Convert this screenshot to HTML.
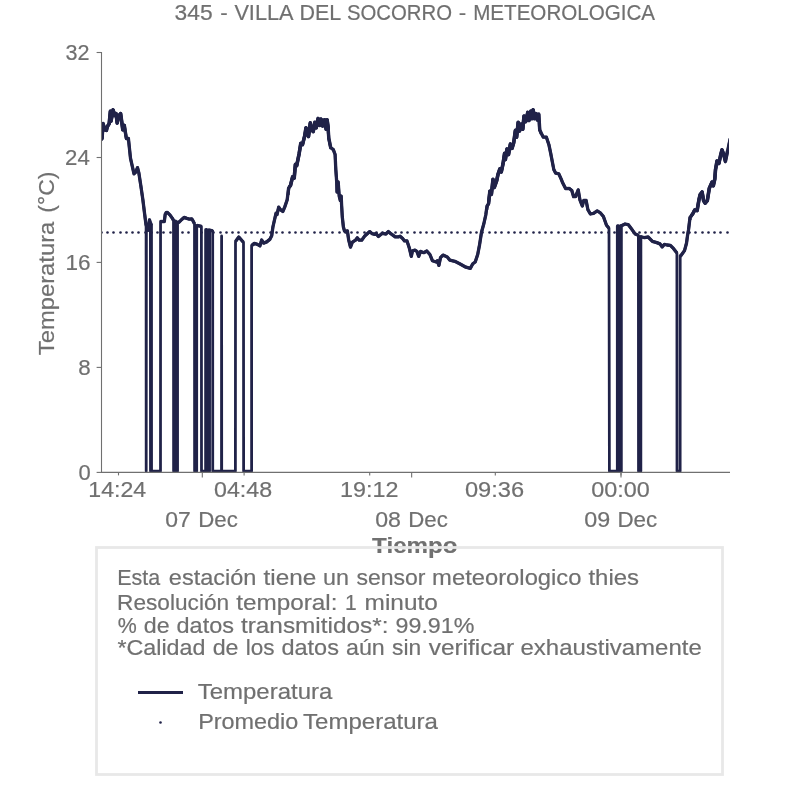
<!DOCTYPE html>
<html lang="es">
<head>
<meta charset="utf-8">
<title>345 - VILLA DEL SOCORRO - METEOROLOGICA</title>
<style>
html,body{margin:0;padding:0;background:#ffffff;}
body{width:806px;height:806px;overflow:hidden;font-family:"Liberation Sans",sans-serif;}
svg{display:block;will-change:transform;}
svg text{font-family:"Liberation Sans",sans-serif;font-size:22.1px;fill:#707070;stroke:#707070;stroke-width:0.2px;white-space:pre;}
</style>
</head>
<body>
<svg width="806" height="806" viewBox="0 0 806 806">
<rect x="0" y="0" width="806" height="806" fill="#ffffff"/>
<defs><clipPath id="ax"><rect x="101.5" y="52.5" width="627.5" height="419.9"/></clipPath>
<clipPath id="noisy"><rect x="101.5" y="100" width="25" height="45"/><rect x="288" y="110" width="42" height="85"/><rect x="487" y="100" width="53" height="110"/><rect x="690" y="130" width="36" height="90"/></clipPath></defs>

<!-- title -->
<text y="20.3" font-size="22.4"><tspan x="174.63" textLength="38.11" lengthAdjust="spacingAndGlyphs">345</tspan> <tspan x="220.22" textLength="7.46" lengthAdjust="spacingAndGlyphs">-</tspan> <tspan x="234.38" textLength="58.01" lengthAdjust="spacingAndGlyphs">VILLA</tspan> <tspan x="299.45" textLength="41.0" lengthAdjust="spacingAndGlyphs">DEL</tspan> <tspan x="346.91" textLength="105.05" lengthAdjust="spacingAndGlyphs">SOCORRO</tspan> <tspan x="458.78" textLength="7.46" lengthAdjust="spacingAndGlyphs">-</tspan> <tspan x="473.22" textLength="181.77" lengthAdjust="spacingAndGlyphs">METEOROLOGICA</tspan></text>
<!-- data: temperatura + promedio -->
<g clip-path="url(#ax)"><path d="M101.00,139.50 L102.00,138.50 L103.00,123.60 L104.80,129.80 L106.40,130.40 L107.30,126.70 L109.20,123.60 L110.40,111.20 L111.00,121.10 L113.10,109.90 L114.70,115.50 L116.00,113.60 L117.20,123.00 L118.50,116.10 L120.60,113.60 L122.80,129.80 L124.30,125.40 L126.50,138.50 L128.40,138.50 L130.50,158.30 L134.00,173.80 L135.80,172.00 L137.50,167.60 L138.90,173.20 L140.80,185.60 L142.90,200.00 L144.50,213.00 L146.10,225.50 L146.20,471.20 L146.40,225.50 L147.20,228.80 L148.30,230.20 L148.70,227.00 L149.50,219.90 L150.40,223.00 L150.50,471.20 L150.60,223.00 L151.50,225.50 L151.55,471.20 L160.50,471.20 L160.55,221.50 L164.30,221.60 L165.20,214.40 L166.20,212.60 L167.30,212.30 L169.90,214.90 L172.40,218.40 L173.50,220.30 L173.60,471.20 L174.90,471.20 L174.90,221.00 L176.20,221.50 L176.25,471.20 L177.55,471.20 L177.55,222.20 L178.90,222.30 L181.80,219.40 L184.10,217.40 L186.80,218.40 L189.30,219.10 L191.80,218.90 L193.30,221.40 L194.50,223.80 L194.60,471.20 L196.70,471.20 L196.75,225.30 L199.00,225.80 L201.40,226.40 L201.50,471.20 L205.60,471.20 L205.60,229.70 L206.90,229.70 L207.00,471.20 L208.40,471.20 L208.40,229.90 L209.50,230.10 L209.55,471.20 L209.60,230.20 L212.70,230.80 L212.75,471.20 L221.50,471.20 L221.60,236.00 L221.70,471.20 L235.40,471.20 L235.50,241.50 L238.80,237.00 L243.50,242.30 L243.60,471.20 L251.60,471.20 L251.60,245.60 L254.30,243.40 L257.40,244.40 L259.90,245.90 L261.70,240.00 L263.60,243.10 L266.70,241.90 L269.80,239.40 L271.70,235.70 L272.90,227.00 L276.00,213.30 L277.00,214.60 L278.70,207.10 L280.40,209.60 L282.80,211.50 L284.70,207.10 L287.20,199.70 L288.60,188.00 L290.50,185.50 L292.60,176.90 L294.20,178.10 L295.40,164.40 L296.70,165.70 L299.20,153.30 L300.80,143.40 L302.50,144.60 L304.70,135.90 L306.00,127.80 L307.20,133.40 L308.50,136.50 L310.30,122.90 L311.60,129.70 L313.20,131.60 L314.90,122.30 L316.20,127.80 L318.10,118.50 L319.60,125.40 L321.10,119.20 L322.70,126.00 L324.60,119.80 L326.10,129.10 L327.10,119.80 L328.10,127.20 L328.90,138.40 L330.80,147.70 L333.30,149.60 L335.10,154.50 L335.80,169.40 L336.70,181.80 L337.00,192.00 L338.20,182.00 L339.20,196.00 L340.30,200.50 L341.20,196.00 L341.60,205.00 L342.30,217.00 L343.40,227.00 L344.50,231.00 L345.50,231.60 L347.40,230.90 L348.60,239.60 L350.50,247.10 L352.40,242.10 L355.50,240.20 L357.30,237.80 L359.20,240.20 L361.70,240.20 L364.80,235.90 L369.70,231.60 L372.20,233.70 L374.70,234.40 L375.90,233.40 L378.40,236.50 L382.10,233.40 L385.90,234.00 L388.30,231.60 L390.80,233.70 L395.20,236.90 L398.30,236.90 L400.10,236.20 L402.60,238.40 L404.50,240.90 L407.00,240.90 L409.40,248.30 L411.30,256.40 L412.50,250.80 L415.00,250.20 L416.90,251.40 L418.70,256.40 L420.60,251.40 L423.70,252.70 L426.80,251.00 L429.90,254.50 L432.40,260.70 L436.20,262.00 L437.40,260.70 L438.90,265.40 L440.50,257.60 L443.00,255.10 L447.30,257.00 L449.80,260.10 L454.80,261.30 L459.70,263.80 L465.90,267.20 L470.30,268.40 L472.80,263.80 L475.20,262.00 L477.70,254.50 L479.60,244.60 L481.50,232.20 L483.90,223.50 L485.80,214.80 L487.00,206.10 L488.50,203.60 L489.90,191.20 L491.40,194.30 L493.00,179.40 L494.30,187.50 L496.70,180.60 L498.00,174.40 L499.90,168.90 L501.30,172.00 L503.00,163.90 L504.60,153.30 L505.40,159.60 L507.00,149.00 L508.50,154.60 L510.40,144.00 L512.00,148.40 L513.70,142.80 L515.40,130.40 L516.60,137.20 L518.20,122.30 L519.50,131.00 L521.20,124.20 L522.80,129.20 L524.00,116.10 L525.70,121.70 L527.80,112.40 L529.00,120.50 L530.90,111.20 L532.10,118.60 L533.10,109.90 L534.60,118.60 L536.10,113.60 L537.30,119.90 L538.90,114.30 L539.80,129.80 L541.40,133.50 L543.30,137.20 L546.40,137.20 L548.90,144.70 L550.70,153.30 L552.60,163.30 L553.80,169.50 L555.70,173.20 L558.80,173.80 L561.30,179.40 L562.50,182.40 L565.60,188.60 L569.30,188.40 L571.80,190.50 L573.60,196.70 L575.50,196.70 L578.20,189.90 L579.90,199.80 L582.30,206.00 L583.80,200.40 L586.10,200.40 L587.90,209.70 L590.40,214.00 L593.50,213.40 L597.20,210.90 L600.30,212.80 L603.40,216.50 L606.50,225.20 L609.00,228.30 L609.40,471.20 L617.30,471.20 L617.30,226.00 L618.60,226.00 L618.70,471.20 L620.00,471.20 L620.00,225.80 L621.30,225.80 L621.35,471.20 L621.40,225.80 L625.10,224.00 L628.20,224.60 L632.00,229.60 L635.10,233.90 L638.40,235.30 L638.50,471.20 L640.85,471.20 L640.90,236.50 L641.90,237.00 L644.40,237.60 L648.10,237.00 L652.40,241.30 L656.80,242.60 L660.00,243.90 L662.20,246.90 L664.40,244.40 L667.00,245.00 L670.40,245.40 L673.40,248.40 L676.90,252.90 L677.00,471.20 L680.15,471.20 L680.20,255.60 L680.80,255.80 L684.50,250.60 L686.50,243.20 L687.50,235.70 L688.50,230.00 L690.00,217.50 L692.80,213.70 L694.70,210.00 L697.10,210.60 L699.00,199.50 L700.20,194.50 L702.10,192.00 L703.60,200.70 L705.20,203.20 L707.30,200.70 L709.30,188.30 L712.00,182.10 L713.30,185.80 L714.80,179.00 L715.50,169.70 L717.00,161.00 L718.90,163.50 L720.70,154.80 L722.00,149.90 L723.80,154.80 L725.50,161.50 L729.00,144.40 L730.20,138.60" fill="none" stroke="#202248" stroke-width="2.78" stroke-linejoin="round" stroke-linecap="butt"/>
<path d="M101.00,139.50 L102.00,138.50 L103.00,123.60 L104.80,129.80 L106.40,130.40 L107.30,126.70 L109.20,123.60 L110.40,111.20 L111.00,121.10 L113.10,109.90 L114.70,115.50 L116.00,113.60 L117.20,123.00 L118.50,116.10 L120.60,113.60 L122.80,129.80 L124.30,125.40 L126.50,138.50 L128.40,138.50 L130.50,158.30 L134.00,173.80 L135.80,172.00 L137.50,167.60 L138.90,173.20 L140.80,185.60 L142.90,200.00 L144.50,213.00 L146.10,225.50 M146.40,225.50 L147.20,228.80 L148.30,230.20 L148.70,227.00 L149.50,219.90 L150.40,223.00 M150.60,223.00 L151.50,225.50 M160.55,221.50 L164.30,221.60 L165.20,214.40 L166.20,212.60 L167.30,212.30 L169.90,214.90 L172.40,218.40 L173.50,220.30 M174.90,221.00 L176.20,221.50 M177.55,222.20 L178.90,222.30 L181.80,219.40 L184.10,217.40 L186.80,218.40 L189.30,219.10 L191.80,218.90 L193.30,221.40 L194.50,223.80 M196.75,225.30 L199.00,225.80 L201.40,226.40 M205.60,229.70 L206.90,229.70 M208.40,229.90 L209.50,230.10 M209.60,230.20 L212.70,230.80 M235.50,241.50 L238.80,237.00 L243.50,242.30 M251.60,245.60 L254.30,243.40 L257.40,244.40 L259.90,245.90 L261.70,240.00 L263.60,243.10 L266.70,241.90 L269.80,239.40 L271.70,235.70 L272.90,227.00 L276.00,213.30 L277.00,214.60 L278.70,207.10 L280.40,209.60 L282.80,211.50 L284.70,207.10 L287.20,199.70 L288.60,188.00 L290.50,185.50 L292.60,176.90 L294.20,178.10 L295.40,164.40 L296.70,165.70 L299.20,153.30 L300.80,143.40 L302.50,144.60 L304.70,135.90 L306.00,127.80 L307.20,133.40 L308.50,136.50 L310.30,122.90 L311.60,129.70 L313.20,131.60 L314.90,122.30 L316.20,127.80 L318.10,118.50 L319.60,125.40 L321.10,119.20 L322.70,126.00 L324.60,119.80 L326.10,129.10 L327.10,119.80 L328.10,127.20 L328.90,138.40 L330.80,147.70 L333.30,149.60 L335.10,154.50 L335.80,169.40 L336.70,181.80 L337.00,192.00 L338.20,182.00 L339.20,196.00 L340.30,200.50 L341.20,196.00 L341.60,205.00 L342.30,217.00 L343.40,227.00 L344.50,231.00 L345.50,231.60 L347.40,230.90 L348.60,239.60 L350.50,247.10 L352.40,242.10 L355.50,240.20 L357.30,237.80 L359.20,240.20 L361.70,240.20 L364.80,235.90 L369.70,231.60 L372.20,233.70 L374.70,234.40 L375.90,233.40 L378.40,236.50 L382.10,233.40 L385.90,234.00 L388.30,231.60 L390.80,233.70 L395.20,236.90 L398.30,236.90 L400.10,236.20 L402.60,238.40 L404.50,240.90 L407.00,240.90 L409.40,248.30 L411.30,256.40 L412.50,250.80 L415.00,250.20 L416.90,251.40 L418.70,256.40 L420.60,251.40 L423.70,252.70 L426.80,251.00 L429.90,254.50 L432.40,260.70 L436.20,262.00 L437.40,260.70 L438.90,265.40 L440.50,257.60 L443.00,255.10 L447.30,257.00 L449.80,260.10 L454.80,261.30 L459.70,263.80 L465.90,267.20 L470.30,268.40 L472.80,263.80 L475.20,262.00 L477.70,254.50 L479.60,244.60 L481.50,232.20 L483.90,223.50 L485.80,214.80 L487.00,206.10 L488.50,203.60 L489.90,191.20 L491.40,194.30 L493.00,179.40 L494.30,187.50 L496.70,180.60 L498.00,174.40 L499.90,168.90 L501.30,172.00 L503.00,163.90 L504.60,153.30 L505.40,159.60 L507.00,149.00 L508.50,154.60 L510.40,144.00 L512.00,148.40 L513.70,142.80 L515.40,130.40 L516.60,137.20 L518.20,122.30 L519.50,131.00 L521.20,124.20 L522.80,129.20 L524.00,116.10 L525.70,121.70 L527.80,112.40 L529.00,120.50 L530.90,111.20 L532.10,118.60 L533.10,109.90 L534.60,118.60 L536.10,113.60 L537.30,119.90 L538.90,114.30 L539.80,129.80 L541.40,133.50 L543.30,137.20 L546.40,137.20 L548.90,144.70 L550.70,153.30 L552.60,163.30 L553.80,169.50 L555.70,173.20 L558.80,173.80 L561.30,179.40 L562.50,182.40 L565.60,188.60 L569.30,188.40 L571.80,190.50 L573.60,196.70 L575.50,196.70 L578.20,189.90 L579.90,199.80 L582.30,206.00 L583.80,200.40 L586.10,200.40 L587.90,209.70 L590.40,214.00 L593.50,213.40 L597.20,210.90 L600.30,212.80 L603.40,216.50 L606.50,225.20 L609.00,228.30 M617.30,226.00 L618.60,226.00 M620.00,225.80 L621.30,225.80 M621.40,225.80 L625.10,224.00 L628.20,224.60 L632.00,229.60 L635.10,233.90 L638.40,235.30 M640.90,236.50 L641.90,237.00 L644.40,237.60 L648.10,237.00 L652.40,241.30 L656.80,242.60 L660.00,243.90 L662.20,246.90 L664.40,244.40 L667.00,245.00 L670.40,245.40 L673.40,248.40 L676.90,252.90 M680.20,255.60 L680.80,255.80 L684.50,250.60 L686.50,243.20 L687.50,235.70 L688.50,230.00 L690.00,217.50 L692.80,213.70 L694.70,210.00 L697.10,210.60 L699.00,199.50 L700.20,194.50 L702.10,192.00 L703.60,200.70 L705.20,203.20 L707.30,200.70 L709.30,188.30 L712.00,182.10 L713.30,185.80 L714.80,179.00 L715.50,169.70 L717.00,161.00 L718.90,163.50 L720.70,154.80 L722.00,149.90 L723.80,154.80 L725.50,161.50 L729.00,144.40 L730.20,138.60" fill="none" stroke="#202248" stroke-width="3.3" stroke-linejoin="round" stroke-linecap="butt"/>
<g clip-path="url(#noisy)"><path d="M101.00,139.50 L102.00,138.50 L103.00,123.60 L104.80,129.80 L106.40,130.40 L107.30,126.70 L109.20,123.60 L110.40,111.20 L111.00,121.10 L113.10,109.90 L114.70,115.50 L116.00,113.60 L117.20,123.00 L118.50,116.10 L120.60,113.60 L122.80,129.80 L124.30,125.40 L126.50,138.50 L128.40,138.50 L130.50,158.30 L134.00,173.80 L135.80,172.00 L137.50,167.60 L138.90,173.20 L140.80,185.60 L142.90,200.00 L144.50,213.00 L146.10,225.50 M146.40,225.50 L147.20,228.80 L148.30,230.20 L148.70,227.00 L149.50,219.90 L150.40,223.00 M150.60,223.00 L151.50,225.50 M160.55,221.50 L164.30,221.60 L165.20,214.40 L166.20,212.60 L167.30,212.30 L169.90,214.90 L172.40,218.40 L173.50,220.30 M174.90,221.00 L176.20,221.50 M177.55,222.20 L178.90,222.30 L181.80,219.40 L184.10,217.40 L186.80,218.40 L189.30,219.10 L191.80,218.90 L193.30,221.40 L194.50,223.80 M196.75,225.30 L199.00,225.80 L201.40,226.40 M205.60,229.70 L206.90,229.70 M208.40,229.90 L209.50,230.10 M209.60,230.20 L212.70,230.80 M235.50,241.50 L238.80,237.00 L243.50,242.30 M251.60,245.60 L254.30,243.40 L257.40,244.40 L259.90,245.90 L261.70,240.00 L263.60,243.10 L266.70,241.90 L269.80,239.40 L271.70,235.70 L272.90,227.00 L276.00,213.30 L277.00,214.60 L278.70,207.10 L280.40,209.60 L282.80,211.50 L284.70,207.10 L287.20,199.70 L288.60,188.00 L290.50,185.50 L292.60,176.90 L294.20,178.10 L295.40,164.40 L296.70,165.70 L299.20,153.30 L300.80,143.40 L302.50,144.60 L304.70,135.90 L306.00,127.80 L307.20,133.40 L308.50,136.50 L310.30,122.90 L311.60,129.70 L313.20,131.60 L314.90,122.30 L316.20,127.80 L318.10,118.50 L319.60,125.40 L321.10,119.20 L322.70,126.00 L324.60,119.80 L326.10,129.10 L327.10,119.80 L328.10,127.20 L328.90,138.40 L330.80,147.70 L333.30,149.60 L335.10,154.50 L335.80,169.40 L336.70,181.80 L337.00,192.00 L338.20,182.00 L339.20,196.00 L340.30,200.50 L341.20,196.00 L341.60,205.00 L342.30,217.00 L343.40,227.00 L344.50,231.00 L345.50,231.60 L347.40,230.90 L348.60,239.60 L350.50,247.10 L352.40,242.10 L355.50,240.20 L357.30,237.80 L359.20,240.20 L361.70,240.20 L364.80,235.90 L369.70,231.60 L372.20,233.70 L374.70,234.40 L375.90,233.40 L378.40,236.50 L382.10,233.40 L385.90,234.00 L388.30,231.60 L390.80,233.70 L395.20,236.90 L398.30,236.90 L400.10,236.20 L402.60,238.40 L404.50,240.90 L407.00,240.90 L409.40,248.30 L411.30,256.40 L412.50,250.80 L415.00,250.20 L416.90,251.40 L418.70,256.40 L420.60,251.40 L423.70,252.70 L426.80,251.00 L429.90,254.50 L432.40,260.70 L436.20,262.00 L437.40,260.70 L438.90,265.40 L440.50,257.60 L443.00,255.10 L447.30,257.00 L449.80,260.10 L454.80,261.30 L459.70,263.80 L465.90,267.20 L470.30,268.40 L472.80,263.80 L475.20,262.00 L477.70,254.50 L479.60,244.60 L481.50,232.20 L483.90,223.50 L485.80,214.80 L487.00,206.10 L488.50,203.60 L489.90,191.20 L491.40,194.30 L493.00,179.40 L494.30,187.50 L496.70,180.60 L498.00,174.40 L499.90,168.90 L501.30,172.00 L503.00,163.90 L504.60,153.30 L505.40,159.60 L507.00,149.00 L508.50,154.60 L510.40,144.00 L512.00,148.40 L513.70,142.80 L515.40,130.40 L516.60,137.20 L518.20,122.30 L519.50,131.00 L521.20,124.20 L522.80,129.20 L524.00,116.10 L525.70,121.70 L527.80,112.40 L529.00,120.50 L530.90,111.20 L532.10,118.60 L533.10,109.90 L534.60,118.60 L536.10,113.60 L537.30,119.90 L538.90,114.30 L539.80,129.80 L541.40,133.50 L543.30,137.20 L546.40,137.20 L548.90,144.70 L550.70,153.30 L552.60,163.30 L553.80,169.50 L555.70,173.20 L558.80,173.80 L561.30,179.40 L562.50,182.40 L565.60,188.60 L569.30,188.40 L571.80,190.50 L573.60,196.70 L575.50,196.70 L578.20,189.90 L579.90,199.80 L582.30,206.00 L583.80,200.40 L586.10,200.40 L587.90,209.70 L590.40,214.00 L593.50,213.40 L597.20,210.90 L600.30,212.80 L603.40,216.50 L606.50,225.20 L609.00,228.30 M617.30,226.00 L618.60,226.00 M620.00,225.80 L621.30,225.80 M621.40,225.80 L625.10,224.00 L628.20,224.60 L632.00,229.60 L635.10,233.90 L638.40,235.30 M640.90,236.50 L641.90,237.00 L644.40,237.60 L648.10,237.00 L652.40,241.30 L656.80,242.60 L660.00,243.90 L662.20,246.90 L664.40,244.40 L667.00,245.00 L670.40,245.40 L673.40,248.40 L676.90,252.90 M680.20,255.60 L680.80,255.80 L684.50,250.60 L686.50,243.20 L687.50,235.70 L688.50,230.00 L690.00,217.50 L692.80,213.70 L694.70,210.00 L697.10,210.60 L699.00,199.50 L700.20,194.50 L702.10,192.00 L703.60,200.70 L705.20,203.20 L707.30,200.70 L709.30,188.30 L712.00,182.10 L713.30,185.80 L714.80,179.00 L715.50,169.70 L717.00,161.00 L718.90,163.50 L720.70,154.80 L722.00,149.90 L723.80,154.80 L725.50,161.50 L729.00,144.40 L730.20,138.60" fill="none" stroke="#202248" stroke-width="3.6" stroke-linejoin="round"/></g>
<g fill="#202248"><circle cx="101.5" cy="232.5" r="1.3"/><circle cx="107.5" cy="232.5" r="1.3"/><circle cx="113.5" cy="232.5" r="1.3"/><circle cx="120.5" cy="232.5" r="1.3"/><circle cx="126.5" cy="232.5" r="1.3"/><circle cx="132.5" cy="232.5" r="1.3"/><circle cx="138.5" cy="232.5" r="1.3"/><circle cx="145.5" cy="232.5" r="1.3"/><circle cx="151.5" cy="232.5" r="1.3"/><circle cx="157.5" cy="232.5" r="1.3"/><circle cx="163.5" cy="232.5" r="1.3"/><circle cx="170.5" cy="232.5" r="1.3"/><circle cx="176.5" cy="232.5" r="1.3"/><circle cx="182.5" cy="232.5" r="1.3"/><circle cx="188.5" cy="232.5" r="1.3"/><circle cx="195.5" cy="232.5" r="1.3"/><circle cx="201.5" cy="232.5" r="1.3"/><circle cx="207.5" cy="232.5" r="1.3"/><circle cx="213.5" cy="232.5" r="1.3"/><circle cx="220.5" cy="232.5" r="1.3"/><circle cx="226.5" cy="232.5" r="1.3"/><circle cx="232.5" cy="232.5" r="1.3"/><circle cx="238.5" cy="232.5" r="1.3"/><circle cx="245.5" cy="232.5" r="1.3"/><circle cx="251.5" cy="232.5" r="1.3"/><circle cx="257.5" cy="232.5" r="1.3"/><circle cx="263.5" cy="232.5" r="1.3"/><circle cx="270.5" cy="232.5" r="1.3"/><circle cx="276.5" cy="232.5" r="1.3"/><circle cx="282.5" cy="232.5" r="1.3"/><circle cx="289.5" cy="232.5" r="1.3"/><circle cx="295.5" cy="232.5" r="1.3"/><circle cx="301.5" cy="232.5" r="1.3"/><circle cx="307.5" cy="232.5" r="1.3"/><circle cx="314.5" cy="232.5" r="1.3"/><circle cx="320.5" cy="232.5" r="1.3"/><circle cx="326.5" cy="232.5" r="1.3"/><circle cx="332.5" cy="232.5" r="1.3"/><circle cx="339.5" cy="232.5" r="1.3"/><circle cx="345.5" cy="232.5" r="1.3"/><circle cx="351.5" cy="232.5" r="1.3"/><circle cx="357.5" cy="232.5" r="1.3"/><circle cx="364.5" cy="232.5" r="1.3"/><circle cx="370.5" cy="232.5" r="1.3"/><circle cx="376.5" cy="232.5" r="1.3"/><circle cx="382.5" cy="232.5" r="1.3"/><circle cx="389.5" cy="232.5" r="1.3"/><circle cx="395.5" cy="232.5" r="1.3"/><circle cx="401.5" cy="232.5" r="1.3"/><circle cx="407.5" cy="232.5" r="1.3"/><circle cx="414.5" cy="232.5" r="1.3"/><circle cx="420.5" cy="232.5" r="1.3"/><circle cx="426.5" cy="232.5" r="1.3"/><circle cx="432.5" cy="232.5" r="1.3"/><circle cx="439.5" cy="232.5" r="1.3"/><circle cx="445.5" cy="232.5" r="1.3"/><circle cx="451.5" cy="232.5" r="1.3"/><circle cx="457.5" cy="232.5" r="1.3"/><circle cx="464.5" cy="232.5" r="1.3"/><circle cx="470.5" cy="232.5" r="1.3"/><circle cx="476.5" cy="232.5" r="1.3"/><circle cx="482.5" cy="232.5" r="1.3"/><circle cx="489.5" cy="232.5" r="1.3"/><circle cx="495.5" cy="232.5" r="1.3"/><circle cx="501.5" cy="232.5" r="1.3"/><circle cx="508.5" cy="232.5" r="1.3"/><circle cx="514.5" cy="232.5" r="1.3"/><circle cx="520.5" cy="232.5" r="1.3"/><circle cx="526.5" cy="232.5" r="1.3"/><circle cx="533.5" cy="232.5" r="1.3"/><circle cx="539.5" cy="232.5" r="1.3"/><circle cx="545.5" cy="232.5" r="1.3"/><circle cx="551.5" cy="232.5" r="1.3"/><circle cx="558.5" cy="232.5" r="1.3"/><circle cx="564.5" cy="232.5" r="1.3"/><circle cx="570.5" cy="232.5" r="1.3"/><circle cx="576.5" cy="232.5" r="1.3"/><circle cx="583.5" cy="232.5" r="1.3"/><circle cx="589.5" cy="232.5" r="1.3"/><circle cx="595.5" cy="232.5" r="1.3"/><circle cx="601.5" cy="232.5" r="1.3"/><circle cx="608.5" cy="232.5" r="1.3"/><circle cx="614.5" cy="232.5" r="1.3"/><circle cx="620.5" cy="232.5" r="1.3"/><circle cx="626.5" cy="232.5" r="1.3"/><circle cx="633.5" cy="232.5" r="1.3"/><circle cx="639.5" cy="232.5" r="1.3"/><circle cx="645.5" cy="232.5" r="1.3"/><circle cx="651.5" cy="232.5" r="1.3"/><circle cx="658.5" cy="232.5" r="1.3"/><circle cx="664.5" cy="232.5" r="1.3"/><circle cx="670.5" cy="232.5" r="1.3"/><circle cx="676.5" cy="232.5" r="1.3"/><circle cx="683.5" cy="232.5" r="1.3"/><circle cx="689.5" cy="232.5" r="1.3"/><circle cx="695.5" cy="232.5" r="1.3"/><circle cx="702.5" cy="232.5" r="1.3"/><circle cx="708.5" cy="232.5" r="1.3"/><circle cx="714.5" cy="232.5" r="1.3"/><circle cx="720.5" cy="232.5" r="1.3"/><circle cx="727.5" cy="232.5" r="1.3"/></g></g>
<!-- axes -->
<g stroke="#707070" stroke-width="1.1" fill="none">
<path d="M101.5,52 V472.95"/><path d="M100.95,472.4 H730"/>
<path d="M96.6,52.5 H101.5"/>
<path d="M96.6,157.5 H101.5"/>
<path d="M96.6,262.4 H101.5"/>
<path d="M96.6,367.4 H101.5"/>
<path d="M96.6,472.4 H101.5"/>
<path d="M118.5,472.4 V475.4"/>
<path d="M244.1,472.4 V475.4"/>
<path d="M369.7,472.4 V475.4"/>
<path d="M495.3,472.4 V475.4"/>
<path d="M621.0,472.4 V475.4"/>
<path d="M202.3,472.4 V477.4"/>
<path d="M411.65,472.4 V477.4"/>
<path d="M621.0,472.4 V477.4"/>
</g>
<text y="59.7" font-size="22.9"><tspan x="65.58" textLength="24.01" lengthAdjust="spacingAndGlyphs">32</tspan></text>
<text y="164.65" font-size="22.9"><tspan x="65.13" textLength="24.72" lengthAdjust="spacingAndGlyphs">24</tspan></text>
<text y="269.6" font-size="22.9"><tspan x="65.43" textLength="25.06" lengthAdjust="spacingAndGlyphs">16</tspan></text>
<text y="374.6" font-size="22.9"><tspan x="78.33" textLength="12.44" lengthAdjust="spacingAndGlyphs">8</tspan></text>
<text y="479.6" font-size="22.9"><tspan x="78.44" textLength="12.22" lengthAdjust="spacingAndGlyphs">0</tspan></text>
<text y="496.65" font-size="22.9"><tspan x="88.34" textLength="57.84" lengthAdjust="spacingAndGlyphs">14:24</tspan></text>
<text y="496.65" font-size="22.9"><tspan x="213.99" textLength="58.12" lengthAdjust="spacingAndGlyphs">04:48</tspan></text>
<text y="496.65" font-size="22.9"><tspan x="340.12" textLength="58.35" lengthAdjust="spacingAndGlyphs">19:12</tspan></text>
<text y="496.65" font-size="22.9"><tspan x="464.98" textLength="59.16" lengthAdjust="spacingAndGlyphs">09:36</tspan></text>
<text y="496.65" font-size="22.9"><tspan x="591.19" textLength="58.53" lengthAdjust="spacingAndGlyphs">00:00</tspan></text>
<text y="526.65"><tspan x="165.2" textLength="25.55" lengthAdjust="spacingAndGlyphs">07</tspan> <tspan x="198.28" textLength="39.61" lengthAdjust="spacingAndGlyphs">Dec</tspan></text>
<text y="526.65"><tspan x="375.2" textLength="25.76" lengthAdjust="spacingAndGlyphs">08</tspan> <tspan x="408.28" textLength="39.61" lengthAdjust="spacingAndGlyphs">Dec</tspan></text>
<text y="526.65"><tspan x="584.19" textLength="25.96" lengthAdjust="spacingAndGlyphs">09</tspan> <tspan x="617.46" textLength="39.83" lengthAdjust="spacingAndGlyphs">Dec</tspan></text>
<text y="0" transform="translate(53.8,354.7) rotate(-90)"><tspan x="-0.52" textLength="133.49" lengthAdjust="spacingAndGlyphs">Temperatura</tspan> <tspan x="142.03" textLength="41.19" lengthAdjust="spacingAndGlyphs">(°C)</tspan></text>
<text y="552.6" font-size="23.0" font-weight="bold"><tspan x="372.13" textLength="85.41" lengthAdjust="spacingAndGlyphs">Tiempo</tspan></text>
<!-- legend -->
<rect x="96.5" y="547.5" width="626" height="227" fill="none" stroke="#e8e8e8" stroke-width="2.8"/>
<text y="585.0"><tspan x="117.24" textLength="42.87" lengthAdjust="spacingAndGlyphs">Esta</tspan> <tspan x="168.8" textLength="87.61" lengthAdjust="spacingAndGlyphs">estación</tspan> <tspan x="263.49" textLength="52.7" lengthAdjust="spacingAndGlyphs">tiene</tspan> <tspan x="323.12" textLength="25.95" lengthAdjust="spacingAndGlyphs">un</tspan> <tspan x="356.46" textLength="69.1" lengthAdjust="spacingAndGlyphs">sensor</tspan> <tspan x="432.14" textLength="149.35" lengthAdjust="spacingAndGlyphs">meteorologico</tspan> <tspan x="588.46" textLength="50.6" lengthAdjust="spacingAndGlyphs">thies</tspan></text>
<text y="609.8"><tspan x="117.14" textLength="111.97" lengthAdjust="spacingAndGlyphs">Resolución</tspan> <tspan x="236.25" textLength="101.27" lengthAdjust="spacingAndGlyphs">temporal:</tspan> <tspan x="345.08" textLength="11.7" lengthAdjust="spacingAndGlyphs">1</tspan> <tspan x="364.6" textLength="73.22" lengthAdjust="spacingAndGlyphs">minuto</tspan></text>
<text y="632.7"><tspan x="117.64" textLength="19.03" lengthAdjust="spacingAndGlyphs">%</tspan> <tspan x="143.85" textLength="25.8" lengthAdjust="spacingAndGlyphs">de</tspan> <tspan x="176.52" textLength="57.45" lengthAdjust="spacingAndGlyphs">datos</tspan> <tspan x="240.95" textLength="147.51" lengthAdjust="spacingAndGlyphs">transmitidos*:</tspan> <tspan x="395.51" textLength="78.92" lengthAdjust="spacingAndGlyphs">99.91%</tspan></text>
<text y="655.3"><tspan x="117.42" textLength="88.03" lengthAdjust="spacingAndGlyphs">*Calidad</tspan> <tspan x="212.66" textLength="25.83" lengthAdjust="spacingAndGlyphs">de</tspan> <tspan x="245.65" textLength="28.78" lengthAdjust="spacingAndGlyphs">los</tspan> <tspan x="281.43" textLength="57.52" lengthAdjust="spacingAndGlyphs">datos</tspan> <tspan x="346.03" textLength="38.71" lengthAdjust="spacingAndGlyphs">aún</tspan> <tspan x="392.13" textLength="29.1" lengthAdjust="spacingAndGlyphs">sin</tspan> <tspan x="428.7" textLength="85.42" lengthAdjust="spacingAndGlyphs">verificar</tspan> <tspan x="520.48" textLength="181.29" lengthAdjust="spacingAndGlyphs">exhaustivamente</tspan></text>
<path d="M138,692.5 H183" stroke="#202248" stroke-width="2.9" fill="none"/>
<text y="698.8" font-size="22.3"><tspan x="197.77" textLength="134.53" lengthAdjust="spacingAndGlyphs">Temperatura</tspan></text>
<circle cx="160.5" cy="722.5" r="1.3" fill="#202248"/>
<text y="728.8" font-size="22.3"><tspan x="198.18" textLength="100.17" lengthAdjust="spacingAndGlyphs">Promedio</tspan> <tspan x="303.02" textLength="134.88" lengthAdjust="spacingAndGlyphs">Temperatura</tspan></text>
</svg>
</body>
</html>
